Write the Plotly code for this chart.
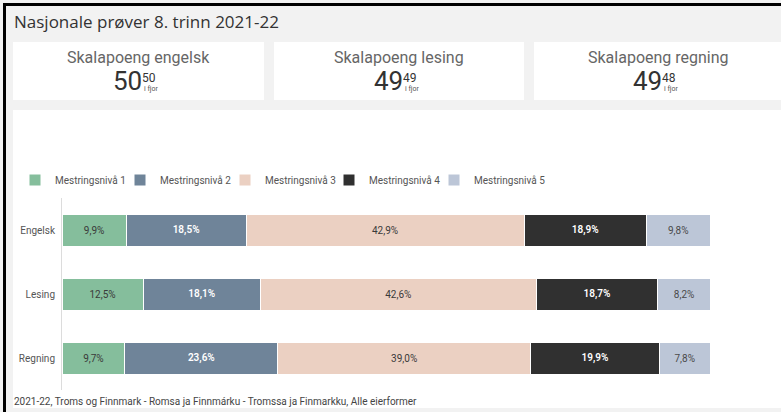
"""Nasjonale prøver 8. trinn 2021-22 - mestringsnivå per fag."""

import plotly.graph_objects as go

W, H = 781, 412

# data
subjects = ["Engelsk", "Lesing", "Regning"]
levels = ["Mestringsnivå 1", "Mestringsnivå 2", "Mestringsnivå 3", "Mestringsnivå 4", "Mestringsnivå 5"]
level1 = [9.9, 12.5, 9.7]
level2 = [18.5, 18.1, 23.6]
level3 = [42.9, 42.6, 39.0]
level4 = [18.9, 18.7, 19.9]
level5 = [9.8, 8.2, 7.8]

card_titles = ["Skalapoeng engelsk", "Skalapoeng lesing", "Skalapoeng regning"]
card_values = [50, 49, 49]
card_last_year = [50, 49, 48]

title = "Nasjonale prøver 8. trinn 2021-22"
footer = "2021-22, Troms og Finnmark - Romsa ja Finnmárku - Tromssa ja Finmarkku, Alle eierformer"

colors = ["#85be9c", "#6f8499", "#ebd0c2", "#303030", "#bcc6d7"]
text_colors = ["#3a3a3a", "#ffffff", "#3a3a3a", "#ffffff", "#4a4a4a"]
text_weights = [400, 600, 400, 600, 400]
legend_x = [30, 135, 240, 344, 449]  # pixel start of each legend swatch


def px(x):
    return x / W


def py(y):
    return 1 - y / H


fig = go.Figure()

series = [level1, level2, level3, level4, level5]
for i, (name, vals, col, tcol, tw) in enumerate(zip(levels, series, colors, text_colors, text_weights)):
    fig.add_trace(
        go.Bar(
            y=subjects,
            x=vals,
            name=name,
            orientation="h",
            legend="legend" if i == 0 else f"legend{i + 1}",
            marker=dict(color=col, line=dict(color="white", width=1)),
            texttemplate="%{x:.1f}%",
            textposition="inside",
            insidetextanchor="middle",
            textangle=0,
            textfont=dict(family="Roboto", size=10, color=tcol, weight=tw),
        )
    )

shapes = []
# white panels
for x0, x1, y0, y1 in [(13, 264, 42, 100), (274, 524, 42, 100), (534, 781, 42, 100), (13, 781, 110, 408)]:
    shapes.append(dict(type="rect", xref="paper", yref="paper", x0=px(x0), x1=px(x1), y0=py(y1), y1=py(y0),
                       fillcolor="white", line_width=0, layer="below"))
# black frame lines
shapes.append(dict(type="rect", xref="paper", yref="paper", x0=px(3), x1=px(6), y0=0, y1=py(3),
                   fillcolor="black", line_width=0))
shapes.append(dict(type="rect", xref="paper", yref="paper", x0=px(3), x1=1, y0=py(6), y1=py(3),
                   fillcolor="black", line_width=0))

annotations = [
    dict(text=title, x=px(12), y=py(22), xanchor="left", yanchor="middle",
         font=dict(family="Open Sans", size=17, color="#333333")),
    dict(text=footer, x=px(12), y=py(401), xanchor="left", yanchor="middle",
         font=dict(family="Roboto", size=10, color="#444444")),
]

card_centers = [138, 399, 658]
for cx, t, v, last in zip(card_centers, card_titles, card_values, card_last_year):
    annotations.append(dict(text=t, x=px(cx), y=py(57), xanchor="center", yanchor="middle",
                            font=dict(family="Roboto", size=16, color="#666666")))
    annotations.append(dict(text=str(v), x=px(cx + 6), y=py(81), xanchor="right", yanchor="middle",
                            font=dict(family="Roboto", size=26, color="#333333")))
    annotations.append(dict(text=str(last), x=px(cx + 2), y=py(78), xanchor="left", yanchor="middle",
                            font=dict(family="Roboto", size=12, color="#333333")))
    annotations.append(dict(text="i fjor", x=px(cx + 4), y=py(89), xanchor="left", yanchor="middle",
                            font=dict(family="Roboto", size=7, color="#555555")))

for a in annotations:
    a.update(xref="paper", yref="paper", showarrow=False)

legends = {}
for i, lx in enumerate(legend_x):
    key = "legend" if i == 0 else f"legend{i + 1}"
    legends[key] = dict(
        orientation="h",
        x=px(lx - 15),
        y=py(180),
        xanchor="left",
        yanchor="middle",
        bgcolor="rgba(0,0,0,0)",
        font=dict(family="Roboto", size=10, color="#555555"),
    )

fig.update_layout(
    width=W,
    height=H,
    margin=dict(l=0, r=0, t=0, b=0),
    paper_bgcolor="#f2f2f2",
    plot_bgcolor="white",
    barmode="stack",
    bargap=0.5,
    separators=", ",
    font=dict(family="Roboto", size=10, color="#555555"),
    shapes=shapes,
    annotations=annotations,
    showlegend=True,
    **legends,
)
fig.update_xaxes(domain=[px(62), px(710)], range=[0, 100], visible=False, fixedrange=True)
fig.update_yaxes(
    domain=[py(390), py(198)],
    autorange="reversed",
    showline=True,
    linecolor="#dcdcdc",
    linewidth=1,
    showgrid=False,
    ticks="",
    ticklabelstandoff=4,
    tickfont=dict(family="Roboto", size=10, color="#555555"),
    fixedrange=True,
)

fig.write_html(
    "out.html",
    config={"displayModeBar": False},
    post_script="document.body.style.margin='0';document.body.style.overflow='hidden';",
)
